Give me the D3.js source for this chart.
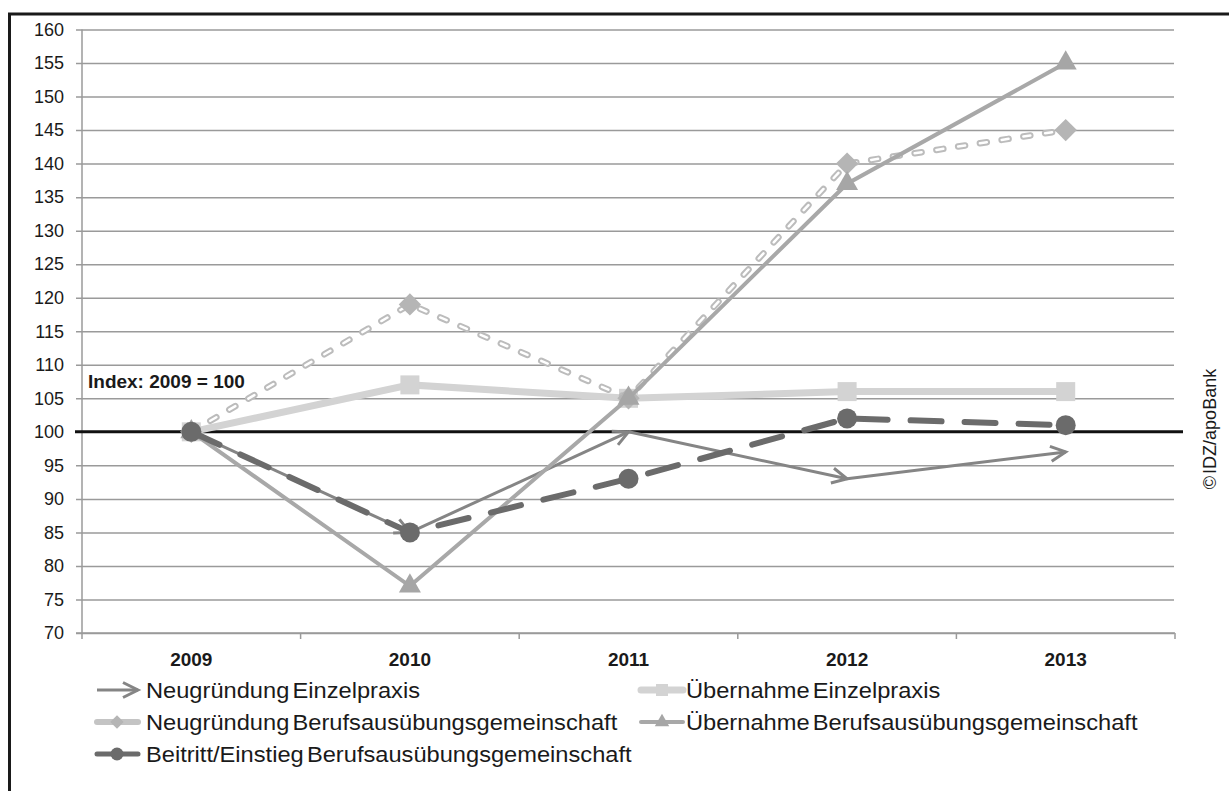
<!DOCTYPE html>
<html>
<head>
<meta charset="utf-8">
<script src="https://cdn.jsdelivr.net/npm/d3@7"></script>
<style>
  body { margin: 0; background: #fff; }
  text { font-family: "Liberation Sans", Arial, sans-serif; fill: #1a1a1a; }
</style>
</head>
<body>
<div id="chart"></div>
<script>
const years = ["2009", "2010", "2011", "2012", "2013"];
const neuEinzel = [100, 85, 100, 93, 97];
const uebEinzel = [100, 107, 105, 106, 106];
const neuBAG = [100, 119, 105, 140, 145];
const uebBAG = [100, 77, 105, 137, 155];
const beitritt = [100, 85, 93, 102, 101];
const yTicks = d3.range(70, 161, 5);
const legendNames = [
  "Neugründung Einzelpraxis",
  "Übernahme Einzelpraxis",
  "Neugründung Berufsausübungsgemeinschaft",
  "Übernahme Berufsausübungsgemeinschaft",
  "Beitritt/Einstieg Berufsausübungsgemeinschaft",
];

const width = 1229, height = 791;

const svg = d3.select("#chart").append("svg")
  .attr("width", width)
  .attr("height", height);

// outer frame
svg.append("rect")
  .attr("x", 9.5).attr("y", 14)
  .attr("width", width + 20).attr("height", height + 20)
  .attr("fill", "none")
  .attr("stroke", "#1a1a1a")
  .attr("stroke-width", 3);

const x = d3.scaleBand().domain(years).range([82, 1175]);
const y = d3.scaleLinear().domain([70, 160]).range([633, 29.5]);
const cx = (d) => x(d) + x.bandwidth() / 2;

// gridlines + y labels
const yAxis = svg.append("g")
  .attr("transform", "translate(76,0)")
  .call(d3.axisLeft(y).tickValues(yTicks).tickSizeInner(-1098).tickSizeOuter(0).tickPadding(12));
yAxis.select(".domain").remove();
yAxis.selectAll(".tick line").attr("stroke", "#9a9a9a").attr("stroke-width", 1.5);
yAxis.selectAll(".tick text").attr("font-size", 18).attr("font-family", null).attr("fill", "#1a1a1a");

// y axis line
svg.append("line")
  .attr("x1", 82).attr("x2", 82)
  .attr("y1", y(160)).attr("y2", y(70))
  .attr("stroke", "#9a9a9a").attr("stroke-width", 1.5);

// x axis
svg.append("line")
  .attr("x1", 76).attr("x2", 1175)
  .attr("y1", y(70)).attr("y2", y(70))
  .attr("stroke", "#9a9a9a").attr("stroke-width", 1.5);
const bounds = years.map((d) => x(d)).concat([x.range()[1]]);
svg.append("g").selectAll("line").data(bounds).join("line")
  .attr("x1", (d) => d).attr("x2", (d) => d)
  .attr("y1", y(70)).attr("y2", y(70) + 6)
  .attr("stroke", "#9a9a9a").attr("stroke-width", 1.5);
svg.append("g").selectAll("text").data(years).join("text")
  .attr("x", cx).attr("y", y(70) + 33)
  .attr("text-anchor", "middle")
  .attr("font-size", 19).attr("font-weight", "bold")
  .text((d) => d);

// reference line at 100
svg.append("line")
  .attr("x1", 75).attr("x2", 1183)
  .attr("y1", y(100)).attr("y2", y(100))
  .attr("stroke", "#111").attr("stroke-width", 3);

svg.append("text")
  .attr("x", 88).attr("y", 388)
  .attr("font-size", 19).attr("font-weight", "bold")
  .text("Index: 2009 = 100");

svg.append("text")
  .attr("transform", "translate(1216,429) rotate(-90)")
  .attr("text-anchor", "middle")
  .attr("font-size", 18)
  .attr("word-spacing", -3)
  .text("© IDZ/apoBank");

const line = d3.line().x((d, i) => cx(years[i])).y((d) => y(d));

// arrow marker
const defs = svg.append("defs");
defs.append("marker")
  .attr("id", "arrow")
  .attr("markerUnits", "userSpaceOnUse")
  .attr("viewBox", "-18 -10 22 20")
  .attr("refX", 0).attr("refY", 0)
  .attr("markerWidth", 22).attr("markerHeight", 20)
  .attr("orient", "auto")
  .append("path")
  .attr("d", "M-15,-7.5L0,0L-15,7.5")
  .attr("fill", "none")
  .attr("stroke", "#858585")
  .attr("stroke-width", 3)
  .attr("stroke-linejoin", "miter");

// 1: Neugründung Einzelpraxis
const segs = d3.pairs(neuEinzel.map((v, i) => [cx(years[i]), y(v)]));
svg.append("g").selectAll("line").data(segs).join("line")
  .attr("x1", (d) => d[0][0]).attr("y1", (d) => d[0][1])
  .attr("x2", (d) => d[1][0]).attr("y2", (d) => d[1][1])
  .attr("stroke", "#858585").attr("stroke-width", 3)
  .attr("marker-end", "url(#arrow)");

// 2: Übernahme Einzelpraxis
svg.append("path").attr("d", line(uebEinzel))
  .attr("fill", "none").attr("stroke", "#d3d3d3").attr("stroke-width", 7);
svg.append("g").selectAll("rect").data(uebEinzel).join("rect")
  .attr("x", (d, i) => cx(years[i]) - 9.5).attr("y", (d) => y(d) - 9.5)
  .attr("width", 19).attr("height", 19)
  .attr("fill", "#d3d3d3");

// 3: Neugründung BAG (double dashed)
svg.append("path").attr("d", line(neuBAG))
  .attr("fill", "none").attr("stroke", "#bcbcbc").attr("stroke-width", 6.5)
  .attr("stroke-dasharray", "7 15").attr("stroke-linecap", "round");
svg.append("path").attr("d", line(neuBAG))
  .attr("fill", "none").attr("stroke", "#fff").attr("stroke-width", 2.5)
  .attr("stroke-dasharray", "7 15").attr("stroke-linecap", "round");
const diamond = d3.symbol().type(d3.symbolSquare).size(250);
svg.append("g").selectAll("path").data(neuBAG).join("path")
  .attr("d", diamond)
  .attr("transform", (d, i) => `translate(${cx(years[i])},${y(d)}) rotate(45)`)
  .attr("fill", "#b5b5b5");

// 4: Übernahme BAG
svg.append("path").attr("d", line(uebBAG))
  .attr("fill", "none").attr("stroke", "#a8a8a8").attr("stroke-width", 4);
const tri = d3.symbol().type(d3.symbolTriangle).size(210);
svg.append("g").selectAll("path").data(uebBAG).join("path")
  .attr("d", tri)
  .attr("transform", (d, i) => `translate(${cx(years[i])},${y(d)})`)
  .attr("fill", "#a6a6a6");

// 5: Beitritt
svg.append("path").attr("d", line(beitritt))
  .attr("fill", "none").attr("stroke", "#6b6b6b").attr("stroke-width", 6)
  .attr("stroke-dasharray", "31 23").attr("stroke-linecap", "round");
svg.append("g").selectAll("circle").data(beitritt).join("circle")
  .attr("cx", (d, i) => cx(years[i])).attr("cy", (d) => y(d))
  .attr("r", 10)
  .attr("fill", "#6b6b6b");

// legend
const legendPos = [
  { x: 97, y: 690 },
  { x: 641, y: 690 },
  { x: 97, y: 722 },
  { x: 641, y: 722 },
  { x: 97, y: 754 },
];
const lg = svg.append("g");
legendPos.forEach((p, i) => {
  const g = lg.append("g").attr("transform", `translate(${p.x},${p.y})`);
  if (i === 0) {
    g.append("line").attr("x1", 0).attr("x2", 41).attr("y1", 0).attr("y2", 0)
      .attr("stroke", "#858585").attr("stroke-width", 3)
      .attr("marker-end", "url(#arrow)");
  } else if (i === 1) {
    g.append("line").attr("x1", 0).attr("x2", 42).attr("y1", 0).attr("y2", 0)
      .attr("stroke", "#d3d3d3").attr("stroke-width", 7).attr("stroke-linecap", "round");
    g.append("rect").attr("x", 15).attr("y", -6).attr("width", 12).attr("height", 12).attr("fill", "#d3d3d3");
  } else if (i === 2) {
    g.append("line").attr("x1", 0).attr("x2", 41).attr("y1", 0).attr("y2", 0)
      .attr("stroke", "#c4c4c4").attr("stroke-width", 6).attr("stroke-linecap", "round");
    g.append("path").attr("d", d3.symbol().type(d3.symbolSquare).size(90))
      .attr("transform", "translate(20,0) rotate(45)").attr("fill", "#b5b5b5");
  } else if (i === 3) {
    g.append("line").attr("x1", 0).attr("x2", 42).attr("y1", 0).attr("y2", 0)
      .attr("stroke", "#a8a8a8").attr("stroke-width", 4).attr("stroke-linecap", "round");
    g.append("path").attr("d", d3.symbol().type(d3.symbolTriangle).size(90))
      .attr("transform", "translate(21,0)").attr("fill", "#a6a6a6");
  } else {
    g.append("line").attr("x1", 0).attr("x2", 41).attr("y1", 0).attr("y2", 0)
      .attr("stroke", "#6b6b6b").attr("stroke-width", 5).attr("stroke-linecap", "round");
    g.append("circle").attr("cx", 20).attr("cy", 0).attr("r", 6.5).attr("fill", "#6b6b6b");
  }
  const tx = i % 2 === 0 ? 49 : 45;
  g.append("text")
    .attr("transform", `translate(${tx},0) scale(1.1,1)`)
    .attr("dy", "0.35em")
    .attr("font-size", 21.5)
    .attr("word-spacing", -3)
    .text(legendNames[i]);
});
</script>
</body>
</html>
